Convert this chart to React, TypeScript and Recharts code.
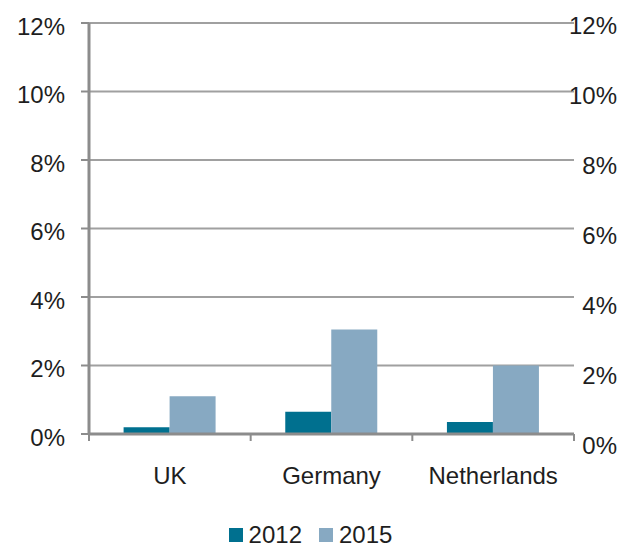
import React from "react";
import { Bar, CartesianGrid, ComposedChart, Legend, Line, XAxis, YAxis } from "recharts";

// Share of ... by country, in percent
const countries = ["UK", "Germany", "Netherlands"];
const values2012 = [0.2, 0.65, 0.35];
const values2015 = [1.1, 3.05, 2.0];
const yTicks = [0, 2, 4, 6, 8, 10, 12];

const data = countries.map((c, i) => ({ country: c, y2012: values2012[i], y2015: values2015[i] }));

const W = 621;
const H = 548;
const LEFT_W = 89;
const RIGHT_W = 47;
const BAND = (W - LEFT_W - RIGHT_W) / countries.length;

const DARK = "#00708f";
const LIGHT = "#87a9c2";
const AXIS = "#8c8c8c";
const FONT = "'Liberation Sans', Arial, Helvetica, sans-serif";

function LeftTick({ x, y, payload }: any) {
  return (
    <text x={x} y={y + 3} dy="0.355em" textAnchor="end" fontSize={24} fill="#1e1e1e" fontFamily={FONT}>
      {`${payload.value}%`}
    </text>
  );
}

// right-hand labels drift a little lower than the gridlines, as in the original
function RightTick({ y, payload }: any) {
  const drift = 2 + (12 - payload.value) * 0.75;
  return (
    <text x={W - 4} y={y + drift} dy="0.355em" textAnchor="end" fontSize={24} fill="#1e1e1e" fontFamily={FONT}>
      {`${payload.value}%`}
    </text>
  );
}

function CountryTick({ x, y, payload, index }: any) {
  const last = index === countries.length - 1;
  return (
    <g>
      <line x1={x - BAND / 2} x2={x - BAND / 2} y1={y} y2={y + 7} stroke={AXIS} strokeWidth={2} />
      {last && <line x1={x + BAND / 2} x2={x + BAND / 2} y1={y} y2={y + 7} stroke={AXIS} strokeWidth={2} />}
      <text x={x} y={y + 41} dy="0.355em" textAnchor="middle" fontSize={24} fill="#1e1e1e" fontFamily={FONT}>
        {payload.value}
      </text>
    </g>
  );
}

function LegendContent() {
  const items = [
    { label: "2012", color: DARK },
    { label: "2015", color: LIGHT },
  ];
  return (
    <div style={{ height: 44, paddingTop: 18, boxSizing: "border-box", display: "flex", justifyContent: "center", gap: 17, fontFamily: FONT, fontSize: 24, color: "#1e1e1e", lineHeight: "24px" }}>
      {items.map((it) => (
        <span key={it.label} style={{ display: "flex", alignItems: "center", gap: 6 }}>
          <span style={{ display: "inline-block", width: 14, height: 14, background: it.color }} />
          {it.label}
        </span>
      ))}
    </div>
  );
}

export default function App() {
  return (
    <div style={{ position: "absolute", left: 0, top: 0, width: W, height: H, background: "#fff" }}>
      <ComposedChart
        width={W}
        height={H}
        data={data}
        margin={{ top: 23, right: 0, left: 0, bottom: 0 }}
        barCategoryGap="21.4%"
        barGap={0}
      >
        <CartesianGrid vertical={false} stroke="#a0a0a0" strokeWidth={2} yAxisId="left" />
        <XAxis
          dataKey="country"
          height={70}
          axisLine={{ stroke: AXIS, strokeWidth: 3 }}
          tickLine={false}
          tickSize={0}
          tickMargin={0}
          tick={<CountryTick />}
          interval={0}
        />
        <YAxis
          yAxisId="left"
          width={LEFT_W}
          domain={[0, 12]}
          ticks={yTicks}
          axisLine={{ stroke: AXIS, strokeWidth: 3 }}
          tickLine={{ stroke: AXIS, strokeWidth: 2 }}
          tickSize={8}
          tickMargin={16}
          tick={<LeftTick />}
        />
        <YAxis
          yAxisId="right"
          orientation="right"
          width={RIGHT_W}
          domain={[0, 12]}
          ticks={yTicks}
          axisLine={false}
          tickLine={false}
          tick={<RightTick />}
        />
        <Legend verticalAlign="bottom" content={<LegendContent />} />
        <Bar yAxisId="left" dataKey="y2012" name="2012" fill={DARK} isAnimationActive={false} />
        <Bar yAxisId="left" dataKey="y2015" name="2015" fill={LIGHT} isAnimationActive={false} />
        {/* invisible series so the right-hand axis gets drawn */}
        <Line
          yAxisId="right"
          dataKey="y2015"
          stroke="none"
          dot={false}
          activeDot={false}
          legendType="none"
          isAnimationActive={false}
        />
      </ComposedChart>
    </div>
  );
}
